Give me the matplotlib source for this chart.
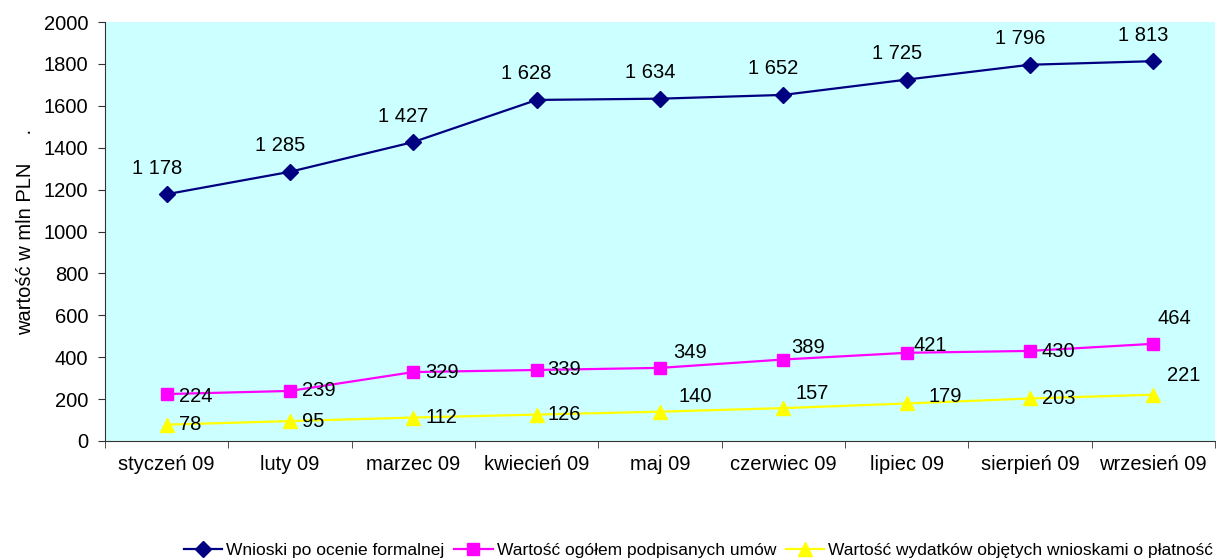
import numpy as np
import matplotlib.pyplot as plt

plt.rcParams['font.family'] = ['Liberation Sans', 'DejaVu Sans']

months = ["styczeń 09", "luty 09", "marzec 09", "kwiecień 09", "maj 09",
          "czerwiec 09", "lipiec 09", "sierpień 09", "wrzesień 09"]
wnioski = [1178, 1285, 1427, 1628, 1634, 1652, 1725, 1796, 1813]
umowy = [224, 239, 329, 339, 349, 389, 421, 430, 464]
wydatki = [78, 95, 112, 126, 140, 157, 179, 203, 221]

# przesuniecia etykiet (piksele)
off_umowy = [(12, -2), (12, 0), (12, 0), (11, 0), (13, 15), (8, 12), (7, 7), (12, -1), (4, 25)]
off_wydatki = [(12, 0), (12, 0), (12, 0), (11, 0), (19, 15), (12, 15), (22, 7), (12, 0), (14, 19)]

fs = 14.5


def fmt(v):
    return "{:,}".format(v).replace(",", " ")


fig = plt.figure(figsize=(12.16, 5.59), dpi=100)
ax = fig.add_axes([105 / 1216, 1 - 441 / 559, 1110 / 1216, 419 / 559])
ax.set_facecolor('#CCFFFF')

x = np.arange(len(months)) + 0.5
ax.plot(x, wnioski, color='#000080', lw=1.6, marker='D', ms=8.5, label='Wnioski po ocenie formalnej')
ax.plot(x, umowy, color='#FF00FF', lw=1.6, marker='s', ms=9, label='Wartość ogółem podpisanych umów')
ax.plot(x, wydatki, color='#FFFF00', lw=1.6, marker='^', ms=10.5,
        label='Wartość wydatków objętych wnioskami o płatność')

for xi, v in zip(x, wnioski):
    ax.annotate(fmt(v), (xi, v), xytext=(-10, 26), textcoords='offset pixels',
                ha='center', va='center', fontsize=fs)
for xi, v, o in zip(x, umowy, off_umowy):
    ax.annotate(fmt(v), (xi, v), xytext=o, textcoords='offset pixels',
                ha='left', va='center', fontsize=fs)
for xi, v, o in zip(x, wydatki, off_wydatki):
    ax.annotate(fmt(v), (xi, v), xytext=o, textcoords='offset pixels',
                ha='left', va='center', fontsize=fs)

ax.set_xlim(0, len(months))
ax.set_ylim(0, 2000)
ax.set_yticks(np.arange(0, 2001, 200))
ax.set_xticks(x)
ax.set_xticklabels(months, fontsize=fs)
ax.set_xticks(np.arange(len(months) + 1), minor=True)
ax.tick_params(axis='x', which='major', length=0, pad=10)
ax.tick_params(axis='x', which='minor', length=5, color='#333333')
ax.tick_params(axis='y', labelsize=fs, length=5, color='#333333', pad=7)
for s in ['top', 'right']:
    ax.spines[s].set_visible(False)
for s in ['left', 'bottom']:
    ax.spines[s].set_color('#333333')
ax.set_ylabel("wartość w mln PLN     .", fontsize=fs, labelpad=6)

fig.legend(loc='center left', bbox_to_anchor=(184 / 1216, 1 - 550 / 559), ncol=3,
           frameon=False, fontsize=12.5, handlelength=2.2, handletextpad=0.23,
           columnspacing=0.57, borderpad=0, borderaxespad=0)

fig.savefig('out.png', dpi=100)
